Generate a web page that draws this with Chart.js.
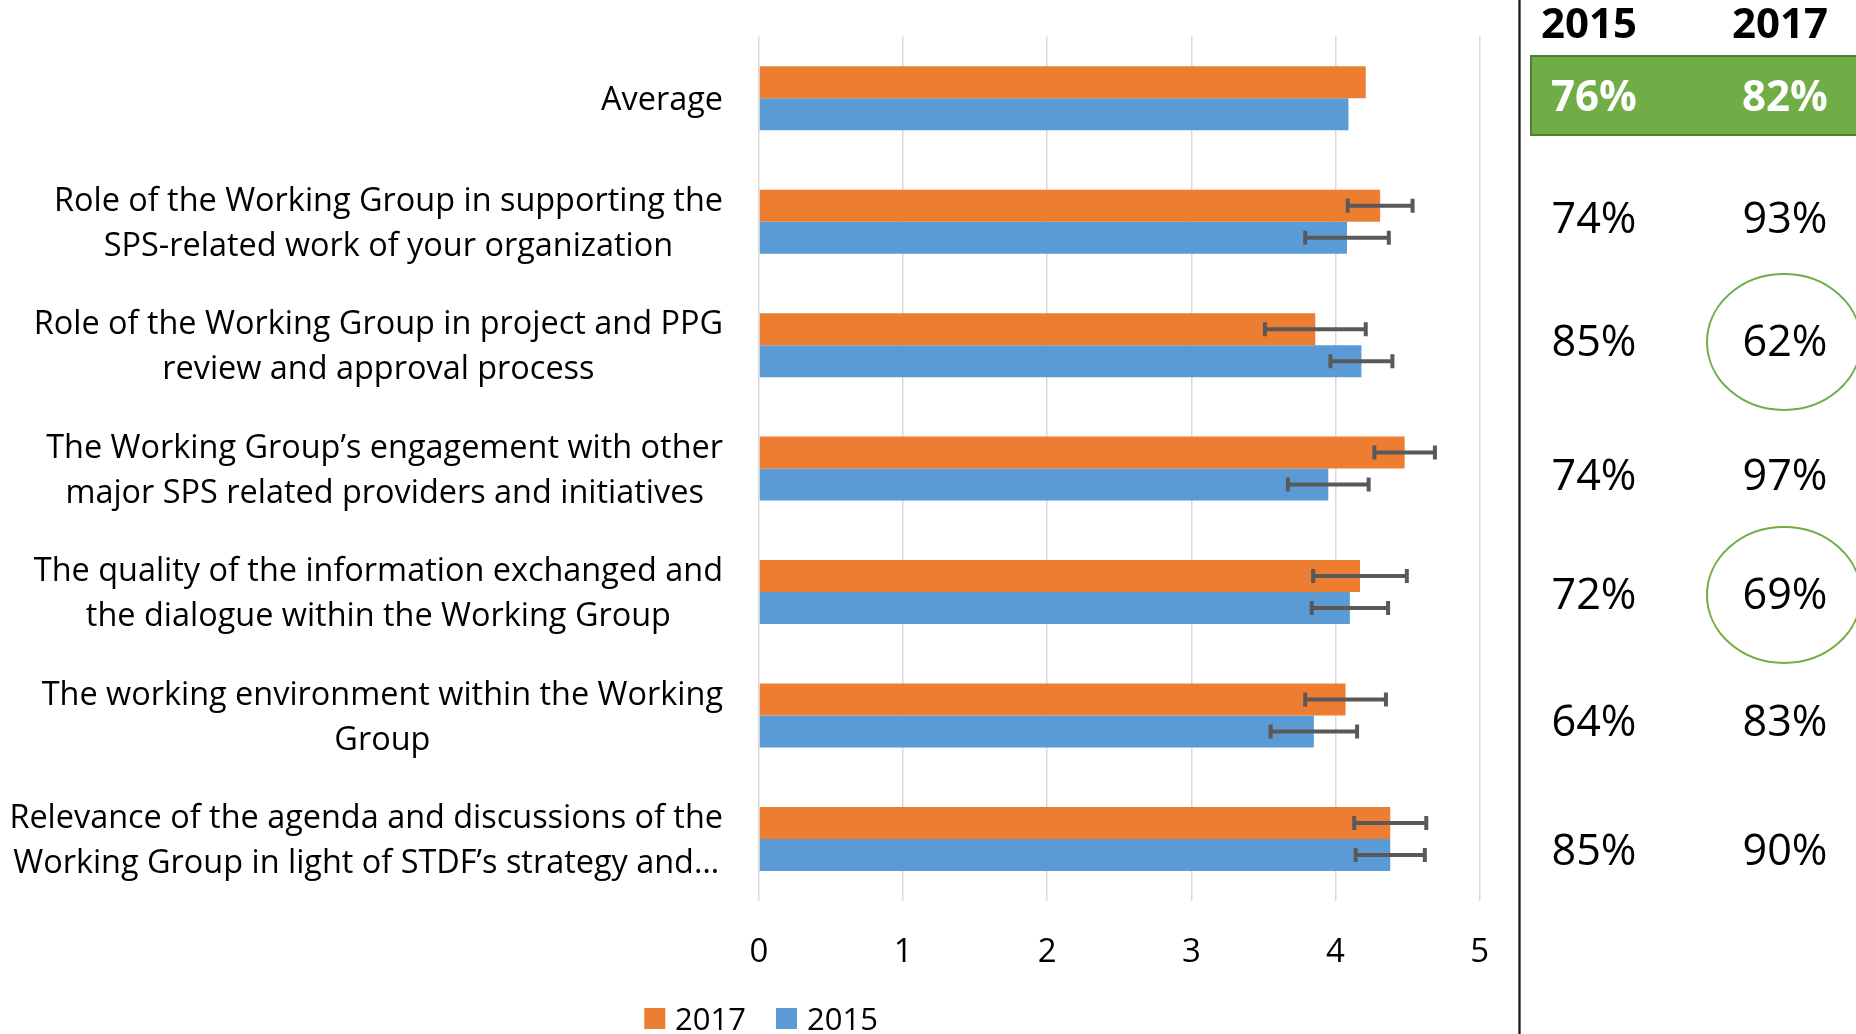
<!DOCTYPE html>
<html><head><meta charset="utf-8">
<script src="https://cdn.jsdelivr.net/npm/chart.js@4.4.1/dist/chart.umd.min.js"></script>
<style>html,body{margin:0;padding:0;background:#fff;overflow:hidden}#wrap{position:relative;width:1856px;height:1034px}</style>
</head><body><div id="wrap"><canvas id="c" width="1856" height="1034"></canvas></div>
<script>
const categories = [
  ['Average'],
  ['Role of the Working Group in supporting the', 'SPS-related work of your organization'],
  ['Role of the Working Group in project and PPG', 'review and approval process'],
  ['The Working Group’s engagement with other', 'major SPS related providers and initiatives'],
  ['The quality of the information exchanged and', 'the dialogue within the Working Group'],
  ['The working environment within the Working', 'Group'],
  ['Relevance of the agenda and discussions of the', 'Working Group in light of STDF’s strategy and…']
];
const seriesNames = ['2017', '2015'];
const values2017 = [4.21, 4.31, 3.86, 4.48, 4.17, 4.07, 4.38];
const values2015 = [4.09, 4.08, 4.18, 3.95, 4.10, 3.85, 4.38];
const err2017 = [null, 0.225, 0.35, 0.21, 0.325, 0.28, 0.25];
const err2015 = [null, 0.29, 0.215, 0.28, 0.265, 0.30, 0.24];
const xTicks = [0, 1, 2, 3, 4, 5];
const tableYears = ['2015', '2017'];
const pct2015 = ['76%', '74%', '85%', '74%', '72%', '64%', '85%'];
const pct2017 = ['82%', '93%', '62%', '97%', '69%', '83%', '90%'];
const circled2017 = [2, 4];

const COLORS = ['#ED7D31', '#5B9BD5'];
const OS = "'Open Sans', sans-serif";
function font(size, weight) { return (weight || 'normal') + ' ' + size + 'px ' + OS; }
function fitSize(ctx, text, weight, target) { ctx.font = font(100, weight); return 100 * target / ctx.measureText(text).width; }
function drawCap(ctx, text, x, y, size, weight, align, color) {
  ctx.font = font(size, weight); ctx.textAlign = align; ctx.textBaseline = 'alphabetic';
  ctx.fillStyle = color; ctx.fillText(text, x, y + 0.714 * size / 2);
}

const custom = {
  id: 'custom',
  afterDatasetsDraw(chart) {
    const ctx = chart.ctx, xs = chart.scales.x;
    ctx.save();
    chart.data.datasets.forEach((ds, di) => {
      const meta = chart.getDatasetMeta(di);
      meta.data.forEach((bar, i) => {
        const e = ds.errors[i]; if (e == null) return;
        const v = ds.data[i];
        const x1 = xs.getPixelForValue(v - e), x2 = xs.getPixelForValue(v + e), y = bar.y;
        ctx.strokeStyle = '#595959'; ctx.lineWidth = 4; ctx.lineCap = 'butt';
        ctx.beginPath(); ctx.moveTo(x1, y); ctx.lineTo(x2, y); ctx.stroke();
        ctx.beginPath(); ctx.moveTo(x1, y - 7); ctx.lineTo(x1, y + 7);
        ctx.moveTo(x2, y - 7); ctx.lineTo(x2, y + 7); ctx.stroke();
      });
    });
    ctx.restore();
  },
  afterDraw(chart) {
    const ctx = chart.ctx, ys = chart.scales.y, area = chart.chartArea;
    ctx.save();
    // category labels
    const size = fitSize(ctx, categories[6][0], 'normal', 714);
    const right = area.left - 36;
    categories.forEach((lines, i) => {
      const cy = ys.getPixelForValue(i);
      ctx.font = font(size);
      const w = Math.max(...lines.map(l => ctx.measureText(l).width));
      const cx = right - w / 2;
      lines.forEach((l, j) => {
        const ly = cy + (j - (lines.length - 1) / 2) * 45;
        drawCap(ctx, l, cx, ly, size, 'normal', 'center', '#000');
      });
    });
    // legend
    const legendItems = [{ sq: 644.3, tx: 675 }, { sq: 776, tx: 807 }];
    chart.data.datasets.forEach((ds, i) => {
      const it = legendItems[i];
      ctx.fillStyle = ds.backgroundColor; ctx.fillRect(it.sq, 1008, 21, 21);
      drawCap(ctx, ds.label, it.tx, 1019, 31, 'normal', 'left', '#000');
    });
    // separator
    ctx.strokeStyle = '#1a1a1a'; ctx.lineWidth = 2.3;
    ctx.beginPath(); ctx.moveTo(1519.5, 0); ctx.lineTo(1519.5, 1034); ctx.stroke();
    // table
    const headCols = [1589, 1780], valCols = [1594, 1785];
    const rowY = [95.5, 217.5, 341, 475, 594, 721, 850];
    const hs = fitSize(ctx, tableYears[0], 'bold', 96);
    tableYears.forEach((t, k) => drawCap(ctx, t, headCols[k], 22.8, hs, 'bold', 'center', '#000'));
    ctx.fillStyle = '#70AD47'; ctx.fillRect(1531, 56, 340, 79);
    ctx.strokeStyle = '#507E32'; ctx.lineWidth = 2; ctx.strokeRect(1531, 56, 340, 79);
    const bs = fitSize(ctx, pct2015[0], 'bold', 86);
    const rs = fitSize(ctx, pct2015[1], 'normal', 85);
    [pct2015, pct2017].forEach((col, k) => {
      col.forEach((t, i) => {
        if (i === 0) drawCap(ctx, t, valCols[k], rowY[i], bs, 'bold', 'center', '#fff');
        else drawCap(ctx, t, valCols[k], rowY[i], rs, 'normal', 'center', '#000');
      });
    });
    ctx.strokeStyle = '#70AD47'; ctx.lineWidth = 2;
    circled2017.forEach(i => {
      ctx.beginPath(); ctx.ellipse(valCols[1] - 1, rowY[i] + 1, 77, 68, 0, 0, Math.PI * 2); ctx.stroke();
    });
    ctx.restore();
  }
};

const ctx = document.getElementById('c').getContext('2d');
new Chart(ctx, {
  type: 'bar',
  data: {
    labels: categories.map(l => l.join(' ')),
    datasets: [
      { label: seriesNames[0], data: values2017, backgroundColor: COLORS[0], errors: err2017 },
      { label: seriesNames[1], data: values2015, backgroundColor: COLORS[1], errors: err2015 }
    ]
  },
  options: {
    indexAxis: 'y', responsive: false, animation: false,
    layout: { padding: { top: 36.6, right: 376.4, left: 0, bottom: 0 } },
    datasets: { bar: { barPercentage: 1, categoryPercentage: 0.5185 } },
    scales: {
      x: {
        min: 0, max: 5,
        afterBuildTicks: s => { s.ticks = xTicks.map(v => ({ value: v })); },
        grid: { color: '#d9d9d9', lineWidth: 1.5, drawTicks: false },
        border: { display: false },
        ticks: { font: { family: OS, size: 33 }, color: '#000', padding: 32 },
        afterFit: s => { s.height = 133.4; }
      },
      y: {
        grid: { display: false }, border: { display: false }, ticks: { display: false },
        afterFit: s => { s.width = 759; }
      }
    },
    plugins: { legend: { display: false }, tooltip: { enabled: false } }
  },
  plugins: [custom]
});
</script></body></html>
